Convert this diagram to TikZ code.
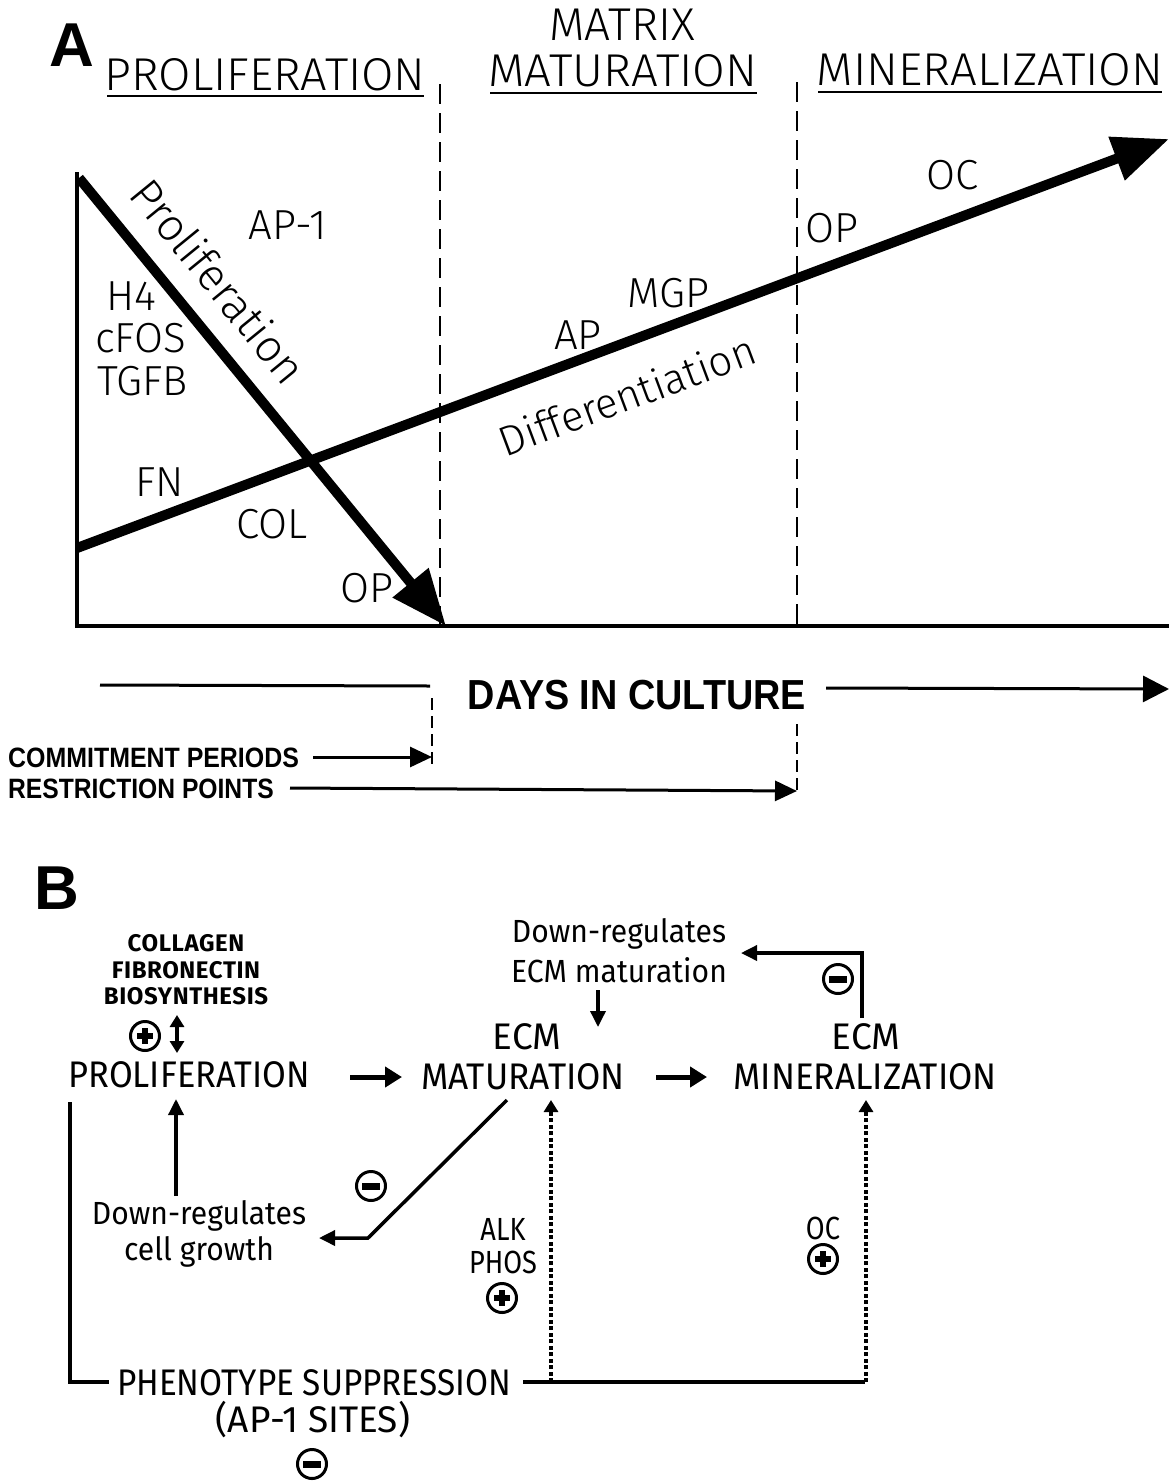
\documentclass[tikz,border=0pt]{standalone}
\usepackage{fontspec}
\setmainfont{Fira Sans Light}
\newfontfamily\medfont{Fira Sans}
\newfontfamily\helv{Liberation Sans}
\usetikzlibrary{arrows.meta}
\newcommand{\sx}[2]{\scalebox{#1}[1]{#2}}
\tikzset{
  big/.style={font=\fontsize{46}{50}\selectfont, inner sep=0pt},
  mid/.style={font=\fontsize{42}{46}\selectfont, inner sep=0pt},
  bsmall/.style={font=\medfont\fontsize{32}{36}\selectfont, inner sep=0pt},
  bcaps/.style={font=\medfont\bfseries\fontsize{24}{28}\selectfont\addfontfeature{LetterSpace=2.5}, inner sep=0pt},
  bstage/.style={font=\medfont\fontsize{37}{42}\selectfont, inner sep=0pt},
  letter/.style={font=\helv\bfseries\fontsize{62}{64}\selectfont, inner sep=0pt},
  daysf/.style={font=\helv\bfseries\fontsize{42}{44}\selectfont, inner sep=0pt},
  commf/.style={font=\helv\bfseries\fontsize{28}{30}\selectfont, inner sep=0pt, anchor=west},
  thickarrow/.style={line width=10pt, -{Triangle[length=56pt,width=44pt]}},
  axis/.style={line width=4pt},
  phase/.style={line width=2.5pt, dash pattern=on 20pt off 9pt},
  thindash/.style={line width=2pt, dash pattern=on 12pt off 6pt},
  tl/.style={line width=3pt},
  ln/.style={line width=3.5pt},
  tip/.style={-{Triangle[length=16pt,width=15pt]}},
  dotl/.style={line width=4.5pt, dash pattern=on 4pt off 2.5pt},
  circsym/.style={circle, draw, line width=3pt, minimum size=29pt, inner sep=0pt},
  plus/.style={circsym, path picture={\fill (path picture bounding box.center) +(-8,-3.2) rectangle +(8,3.2);
     \fill (path picture bounding box.center) +(-3.2,-8) rectangle +(3.2,8);}},
  minus/.style={circsym, path picture={\fill (path picture bounding box.center) +(-9,-3.5) rectangle +(9,3.5);}},
}
\begin{document}
\begin{tikzpicture}[x=1pt,y=-1pt]
\useasboundingbox (0,0) rectangle (1169,1481);
% ---------------- Panel A ----------------
\node[letter] (lA) at (72,45) {A};
\node[big] (tprol) at (265,75) {\sx{1.02}{PROLIFERATION}};
\node[big] (tmat1) at (622,25) {MATRIX};
\node[big] (tmat2) at (623,71) {\sx{1.03}{MATURATION}};
\node[big] (tmin) at (990,70) {\sx{1.03}{MINERALIZATION}};
\draw[line width=2.5pt] (107,96) -- (424,96);
\draw[line width=2.5pt] (490,93) -- (757,93);
\draw[line width=2.5pt] (818,92) -- (1162,92);
% phase boundaries
\coordinate (d1t) at (440,84);
\coordinate (d1b) at (440,626);
\coordinate (d2t) at (797,82);
\coordinate (d2b) at (797,626);
\draw[phase] (d1t) -- (d1b);
\draw[phase] (d2t) -- (d2b);
% axes
\coordinate (o) at (77,626);
\coordinate (ytop) at (77,172);
\coordinate (xend) at (1169,626);
\draw[axis] (ytop) -- (o) -- (xend);
% arrows
\coordinate (ps) at (79,178);
\coordinate (pe) at (446,626);
\coordinate (ds) at (77,548);
\coordinate (de) at (1169,139);
\draw[thickarrow] (ps) -- (pe);
\draw[thickarrow] (ds) -- (de);
\node[font=\fontsize{45}{48}\selectfont, inner sep=0pt, rotate=-50.8] (lprol) at (219,281) {Proliferation};
\node[mid, rotate=20.5] (ldiff) at (627,395) {Differentiation};
% gene labels
\node[mid] (ap1) at (288,225) {AP-1};
\node[mid, anchor=west] (h4) at (106,296) {H4};
\node[mid, anchor=west] (cfos) at (95,338) {cFOS};
\node[mid, anchor=west] (tgfb) at (97,381) {TGFB};
\node[mid] (fn) at (160,482) {FN};
\node[mid] (col) at (272,524) {COL};
\node[mid] (op1) at (367,588) {OP};
\node[mid] (ap) at (578,335) {AP};
\node[mid] (mgp) at (668,293) {MGP};
\node[mid] (op2) at (832,228) {OP};
\node[mid] (oc) at (953,175) {OC};
% days in culture
\node[daysf] (days) at (637,695) {\sx{0.9}{DAYS IN CULTURE}};
\coordinate (l1s) at (100,685);
\coordinate (l1e) at (430,686);
\draw[tl] (l1s) -- (l1e);
\coordinate (l2s) at (826,688);
\coordinate (l2e) at (1169,689);
\draw[tl, -{Triangle[length=26pt,width=26pt]}] (l2s) -- (l2e);
\coordinate (c1t) at (432,698);
\coordinate (c1b) at (432,768);
\draw[thindash] (c1t) -- (c1b);
\coordinate (c2t) at (797,724);
\coordinate (c2b) at (797,792);
\draw[thindash] (c2t) -- (c2b);
\node[commf] (commit) at (8,758) {\sx{0.89}{COMMITMENT PERIODS}};
\node[commf] (restr) at (8,789) {\sx{0.88}{RESTRICTION POINTS}};
\coordinate (ca) at (313,757);
\coordinate (cb) at (432,757);
\draw[tl, -{Triangle[length=22pt,width=20pt]}] (ca) -- (cb);
\coordinate (ra) at (290,788);
\coordinate (rb) at (797,791);
\draw[tl, -{Triangle[length=22pt,width=20pt]}] (ra) -- (rb);
% ---------------- Panel B ----------------
\node[letter] (lB) at (57,888) {B};
\node[bcaps] (coll) at (186,943) {COLLAGEN};
\node[bcaps] (fibr) at (186,970) {FIBRONECTIN};
\node[bcaps] (bios) at (186,996) {BIOSYNTHESIS};
\node[plus] (pl1) at (145,1036) {};
\coordinate (da) at (177,1015);
\coordinate (db) at (177,1053);
\draw[ln, {Triangle[length=12pt,width=14pt]}-{Triangle[length=12pt,width=14pt]}] (da) -- (db);
\node[bstage] (prolB) at (189,1075) {\sx{0.93}{PROLIFERATION}};
\node[bstage] (ecm1) at (527,1037) {ECM};
\node[bstage] (matB) at (523,1077) {\sx{0.95}{MATURATION}};
\node[bstage] (ecm2) at (866,1037) {ECM};
\node[bstage] (minB) at (865,1077) {\sx{0.95}{MINERALIZATION}};
\coordinate (a1s) at (350,1077);
\coordinate (a1e) at (402,1077);
\draw[line width=5pt, -{Triangle[length=17pt,width=20pt]}] (a1s) -- (a1e);
\coordinate (a2s) at (656,1077);
\coordinate (a2e) at (707,1077);
\draw[line width=5pt, -{Triangle[length=17pt,width=20pt]}] (a2s) -- (a2e);
\node[bsmall] (dr1) at (619,934) {\sx{0.94}{Down-regulates}};
\node[bsmall] (dr2) at (619,970) {\sx{0.94}{ECM maturation}};
\coordinate (dm1) at (598,990);
\coordinate (dm2) at (598,1027);
\draw[ln, tip] (dm1) -- (dm2);
\coordinate (f1) at (862,1018);
\coordinate (f2) at (862,953);
\coordinate (f3) at (741,953);
\draw[ln, tip] (f1) -- (f2) -- (f3);
\node[minus] (mi1) at (838,979) {};
% down-regulates cell growth
\coordinate (g1) at (507,1100);
\coordinate (g2) at (368,1238);
\coordinate (g3) at (319,1238);
\draw[ln, tip] (g1) -- (g2) -- (g3);
\node[minus] (mi2) at (371,1186) {};
\node[bsmall] (dr3) at (199,1216) {\sx{0.94}{Down-regulates}};
\node[bsmall] (dr4) at (199,1252) {\sx{0.94}{cell growth}};
\coordinate (u1) at (176,1196);
\coordinate (u2) at (176,1099);
\draw[ln, tip] (u1) -- (u2);
% phenotype suppression
\node[bstage] (phen) at (314,1383) {\sx{0.9}{PHENOTYPE SUPPRESSION}};
\node[bstage] (ap1s) at (313,1420) {\sx{1.0}{(AP-1 SITES)}};
\node[minus] (mi3) at (312,1464) {};
\coordinate (v1) at (70,1102);
\coordinate (v2) at (70,1382);
\coordinate (v3) at (109,1382);
\draw[ln] (v1) -- (v2) -- (v3);
\coordinate (h1) at (523,1382);
\coordinate (h2) at (865,1382);
\draw[line width=4pt] (h1) -- (h2);
\coordinate (k1) at (551,1382);
\coordinate (k2) at (551,1100);
\draw[dotl, -{Triangle[length=12pt,width=14pt]}] (k1) -- (k2);
\coordinate (m1) at (866,1382);
\coordinate (m2) at (866,1100);
\draw[dotl, -{Triangle[length=12pt,width=14pt]}] (m1) -- (m2);
\node[bsmall] (alk) at (503,1229) {\sx{0.85}{ALK}};
\node[bsmall] (phos) at (503,1262) {\sx{0.85}{PHOS}};
\node[plus] (pl2) at (502,1298) {};
\node[bsmall] (ocB) at (823,1228) {\sx{0.85}{OC}};
\node[plus] (pl3) at (823,1259) {};
\end{tikzpicture}
\end{document}
